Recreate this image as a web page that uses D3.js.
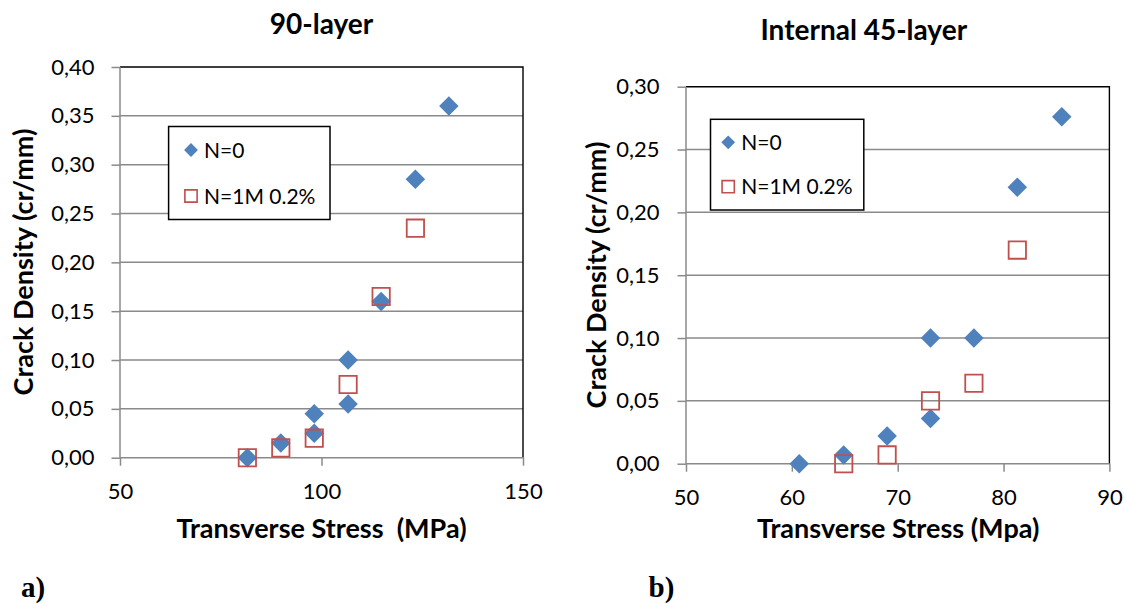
<!DOCTYPE html>
<html><head><meta charset="utf-8">
<script src="https://cdn.jsdelivr.net/npm/d3@7"></script>
<style>
body{margin:0;background:#fff;}
svg{display:block;font-family:Lato,"Open Sans",sans-serif;}
</style></head>
<body><svg id="c" width="1127" height="604"></svg>
<script>
// ---- Data: panel a) 90-layer ----
const aX0 = [81.6, 89.9, 98.2, 98.2, 106.6, 106.6, 114.8, 123.3, 131.6];
const aY0 = [0.000, 0.015, 0.045, 0.025, 0.100, 0.055, 0.160, 0.285, 0.360];
const aX1 = [81.6, 89.9, 98.2, 106.6, 114.8, 123.3];
const aY1 = [0.000, 0.010, 0.020, 0.075, 0.165, 0.235];
const aXTicks = [50, 100, 150];
const aYTicks = [0, 0.05, 0.10, 0.15, 0.20, 0.25, 0.30, 0.35, 0.40];
// ---- Data: panel b) Internal 45-layer ----
const bX0 = [60.7, 64.9, 69.0, 73.1, 73.1, 77.2, 81.3, 85.5];
const bY0 = [0.000, 0.007, 0.022, 0.036, 0.100, 0.100, 0.220, 0.276];
const bX1 = [64.9, 69.0, 73.1, 77.2, 81.3];
const bY1 = [0.000, 0.007, 0.050, 0.064, 0.170];
const bXTicks = [50, 60, 70, 80, 90];
const bYTicks = [0, 0.05, 0.10, 0.15, 0.20, 0.25, 0.30];
const seriesNames = ["N=0", "N=1M 0.2%"];

const svg = d3.select("#c");
const BLUE = "#4F81BD", RED = "#C0504D", GRID = "#8a8a8a";
const fmt = v => d3.format(".2f")(v).replace(".", ",");

function panel(o) {
  const g = svg.append("g");
  const x = d3.scaleLinear().domain(o.xDom).range([o.L, o.R]);
  const y = d3.scaleLinear().domain(o.yDom).range([o.B, o.T]);
  g.append("g").selectAll("line").data(o.yTicks.filter(v => v > o.yDom[0] && v < o.yDom[1]))
    .join("line").attr("x1", o.L).attr("x2", o.R).attr("y1", d => y(d)).attr("y2", d => y(d))
    .attr("stroke", GRID).attr("stroke-width", 1.5);
  g.append("path").attr("d", `M${o.L},${o.T}H${o.R}V${o.B}`).attr("fill", "none")
    .attr("stroke", "#000").attr("stroke-width", 1.4);
  const ya = g.append("g").attr("transform", `translate(${o.L},0)`)
    .call(d3.axisLeft(y).tickValues(o.yTicks).tickFormat(fmt).tickSize(8.5).tickPadding(o.ypad));
  const xa = g.append("g").attr("transform", `translate(0,${o.B})`)
    .call(d3.axisBottom(x).tickValues(o.xTicks).tickFormat(d3.format("d")).tickSize(8).tickPadding(18));
  [ya, xa].forEach(a => {
    a.select(".domain").attr("stroke", GRID).attr("stroke-width", 1.5);
    a.selectAll(".tick line").attr("stroke", GRID).attr("stroke-width", 1.5);
    a.selectAll(".tick text").attr("fill", "#000").style("font-size", "22px").style("font-family", "Lato");
  });
  ya.select(".domain").attr("d", `M0,${o.B}V${o.T}`);
  xa.select(".domain").attr("d", `M${o.L},0H${o.R}`);
  // series 1 (diamonds) first, series 2 (open squares) drawn on top
  g.append("g").selectAll("path").data(o.x0.map((v, i) => [v, o.y0[i]])).join("path")
    .attr("d", d3.symbol().type(d3.symbolSquare).size(190))
    .attr("transform", d => `translate(${x(d[0])},${y(d[1])}) rotate(45)`)
    .attr("fill", BLUE);
  g.append("g").selectAll("path").data(o.x1.map((v, i) => [v, o.y1[i]])).join("path")
    .attr("d", d3.symbol().type(d3.symbolSquare).size(300))
    .attr("transform", d => `translate(${x(d[0])},${y(d[1])})`)
    .attr("fill", "none").attr("stroke", RED).attr("stroke-width", 1.8);
  const lg = g.append("g");
  lg.append("rect").attr("x", o.leg[0]).attr("y", o.leg[1]).attr("width", o.leg[2]).attr("height", o.leg[3])
    .attr("fill", "#fff").attr("stroke", "#000").attr("stroke-width", 1.5);
  lg.append("path").attr("d", d3.symbol().type(d3.symbolSquare).size(95))
    .attr("transform", `translate(${o.leg[4]},${o.leg[5]}) rotate(45)`).attr("fill", BLUE);
  lg.append("path").attr("d", d3.symbol().type(d3.symbolSquare).size(150))
    .attr("transform", `translate(${o.leg[4]},${o.leg[6]})`).attr("fill", "#fff")
    .attr("stroke", RED).attr("stroke-width", 1.6);
  [o.leg[5], o.leg[6]].forEach((yy, i) => {
    lg.append("text").attr("x", o.leg[4] + 13).attr("y", yy).attr("dy", "0.36em")
      .style("font-size", "21px").text(seriesNames[i]);
  });
  g.append("text").attr("x", o.title[1]).attr("y", o.title[2]).attr("text-anchor", "middle")
    .attr("dy", "0.36em").style("font-size", "28px").style("font-weight", "bold").text(o.title[0]);
  g.append("text").attr("x", o.xlab[2]).attr("y", o.xlab[1]).attr("text-anchor", "middle")
    .attr("dy", "0.36em").style("font-size", "27px").style("font-weight", "bold")
    .attr("xml:space", "preserve").style("white-space", "pre").text(o.xlab[0]);
  g.append("text").attr("transform", `translate(${o.ylab[0]},${o.ylab[1]}) rotate(-90)`)
    .attr("text-anchor", "middle").attr("dy", "0.36em").style("font-size", "27px")
    .style("font-weight", "bold").text("Crack Density (cr/mm)");
  g.append("text").attr("x", o.tag[1]).attr("y", o.tag[2]).attr("dy", "0.33em")
    .style("font-family", "'Liberation Serif','Times New Roman',serif").style("font-size", "29px")
    .style("font-weight", "bold").text(o.tag[0]);
}

panel({
  L: 120, R: 523, T: 67, B: 457.7, xDom: [50, 150], yDom: [0, 0.4], ypad: 17,
  xTicks: aXTicks, yTicks: aYTicks, x0: aX0, y0: aY0, x1: aX1, y1: aY1,
  leg: [168.6, 126.5, 161.4, 93, 191, 150, 196],
  title: ["90-layer", 321.5, 24], xlab: ["Transverse Stress  (MPa)", 528, 321.5],
  ylab: [23, 262], tag: ["a)", 21, 587]
});
panel({
  L: 686, R: 1109.4, T: 86.7, B: 463.7, xDom: [50, 90], yDom: [0, 0.3], ypad: 18,
  xTicks: bXTicks, yTicks: bYTicks, x0: bX0, y0: bY0, x1: bX1, y1: bY1,
  leg: [710.5, 119.3, 153.3, 90.7, 728.2, 142.3, 186.7],
  title: ["Internal 45-layer", 863.8, 30], xlab: ["Transverse Stress (Mpa)", 528, 898.2],
  ylab: [596, 275], tag: ["b)", 648.5, 587]
});
</script></body></html>
